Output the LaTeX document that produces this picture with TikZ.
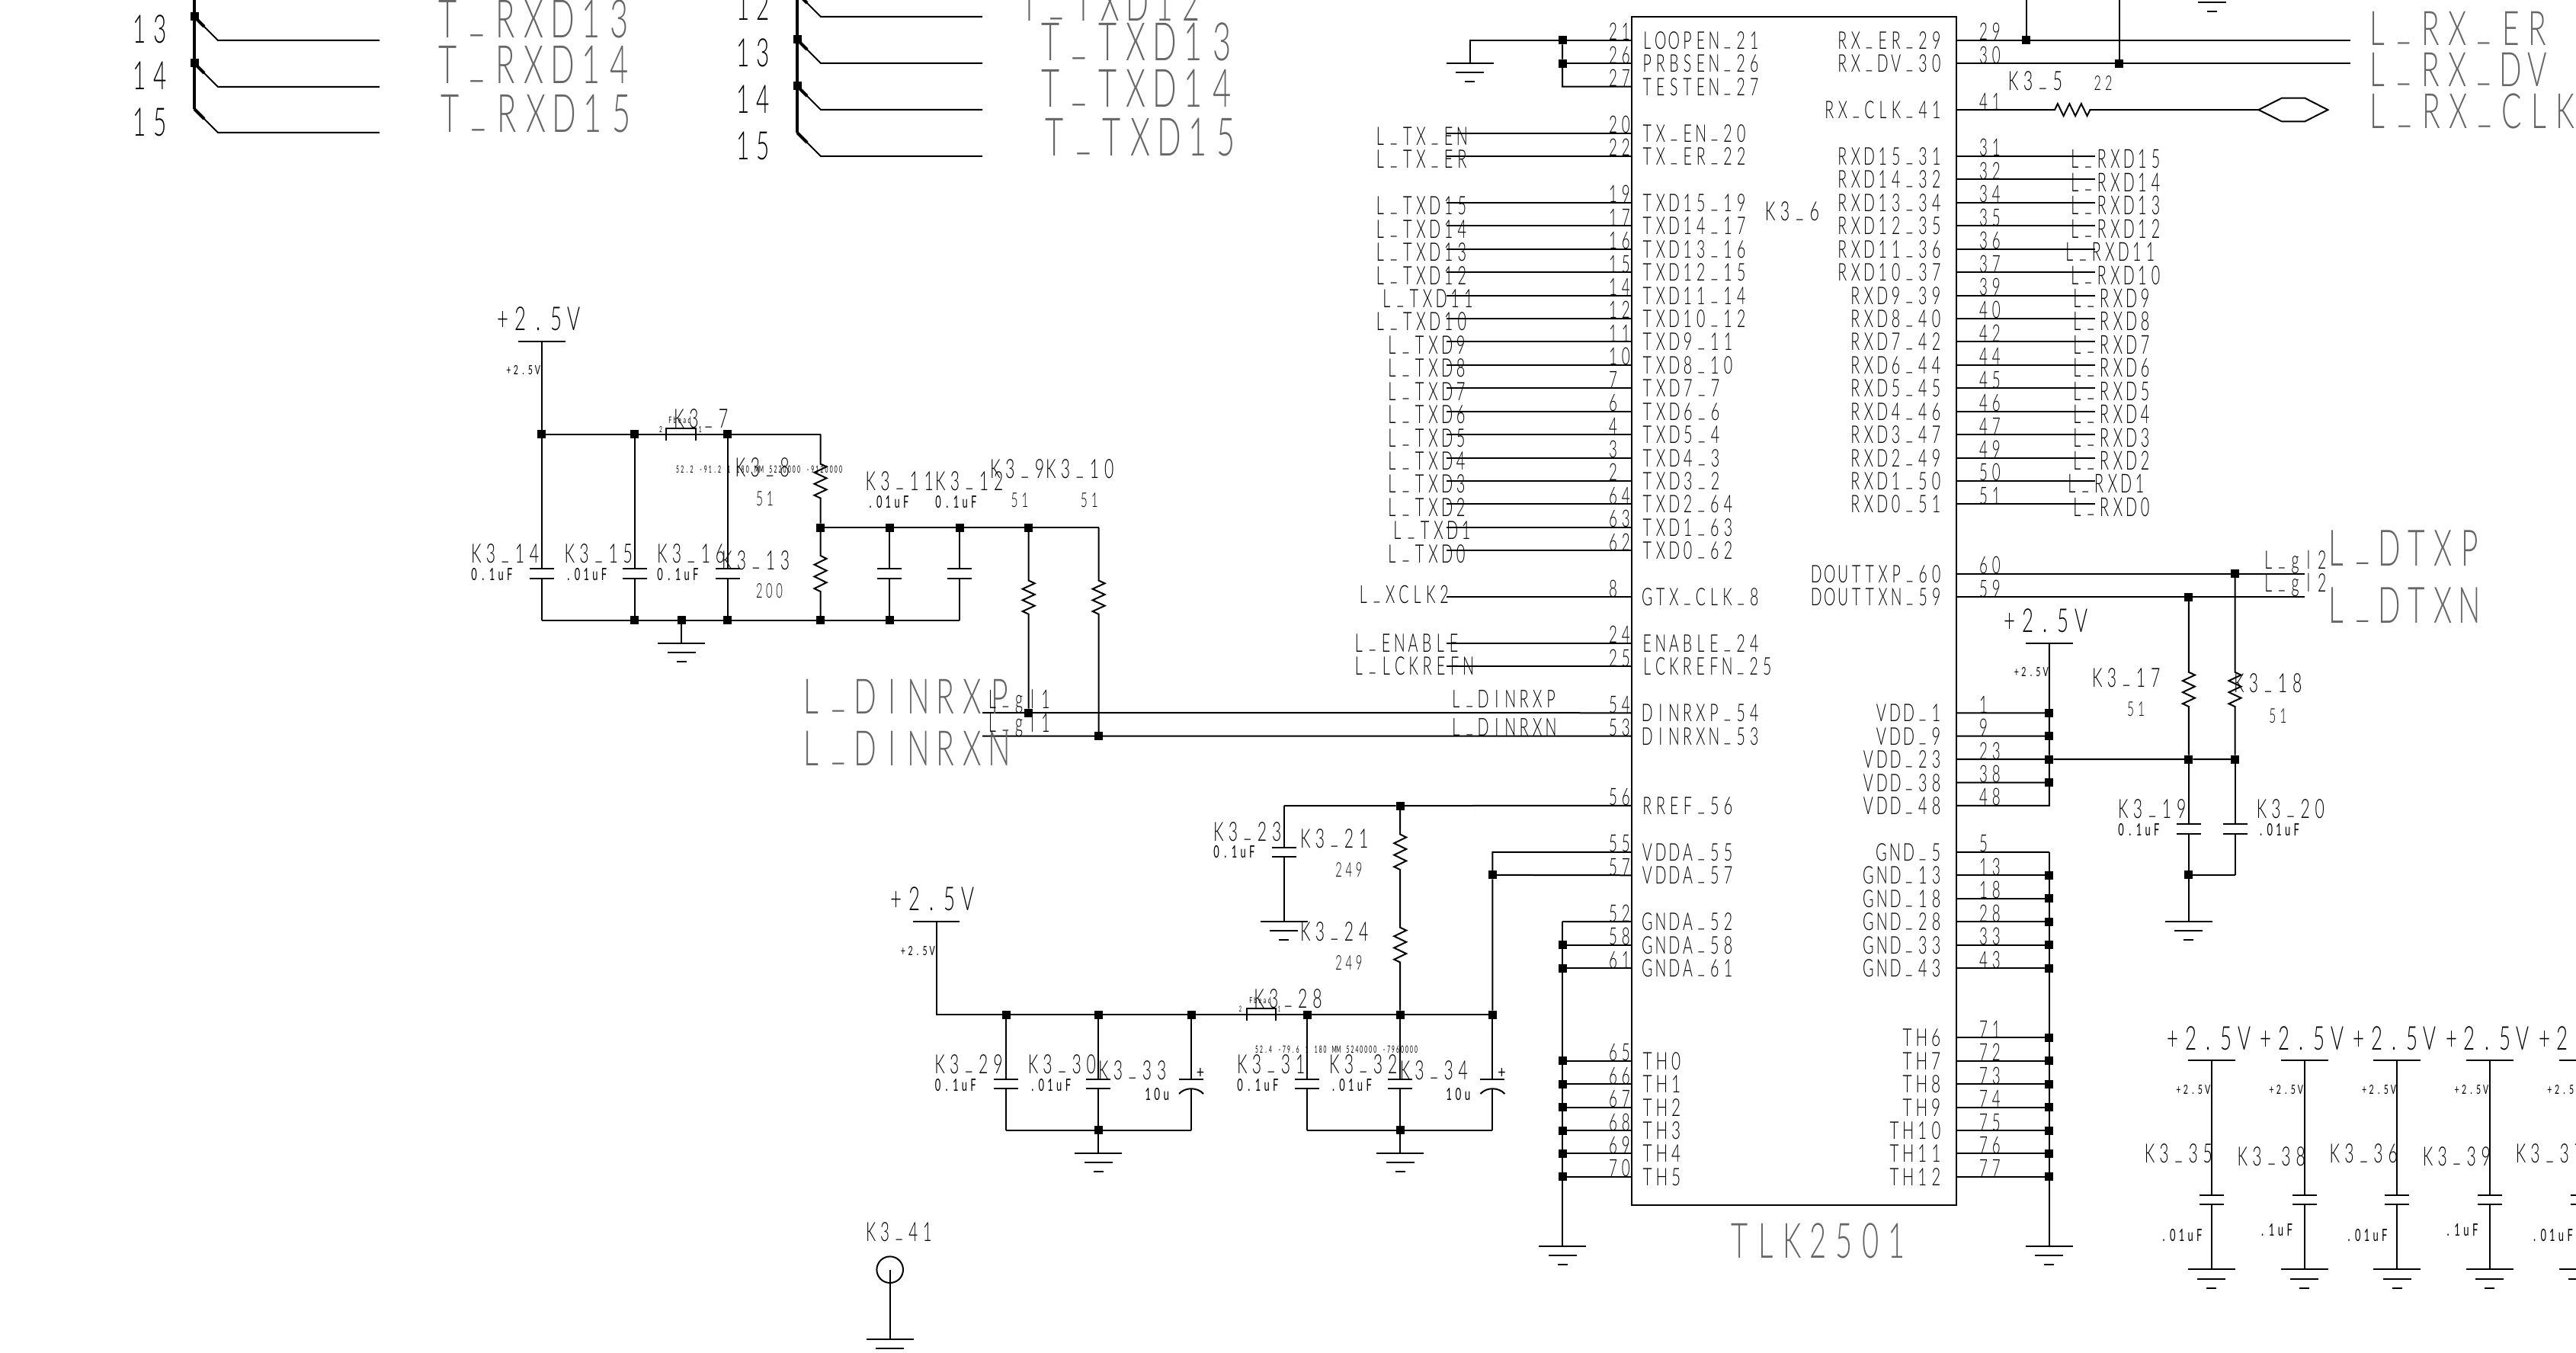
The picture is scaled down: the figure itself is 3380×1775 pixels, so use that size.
\documentclass[tikz,border=0pt]{standalone}
\usepackage{fontspec}
\usepackage{graphicx}
\usepackage{calc}
\newfontfamily\fReg{Lato}
\newfontfamily\fLight{Lato Light}
\newcounter{tn}
\newcount\chn
\makeatletter
\newcommand\cellify[1]{\@tfor\mych:=#1\do{\makebox[9pt][c]{\mych}}}
\newcommand\countchars[1]{\chn=0 \@tfor\mych:=#1\do{\advance\chn by 1 }}
\def\sidewest{west}
% anchor side, x, y of baseline, ink width per character, cap height, text
\newcommand\TX[6]{\countchars{#6}%
  \ifnum\chn>1 \pgfmathsetmacro\ptrue{#4*\the\chn/(\the\chn-0.28)}\else\pgfmathsetmacro\ptrue{#4}\fi
  \edef\sidearg{#1}%
  \ifx\sidearg\sidewest \pgfmathsetmacro\shx{-0.14*\ptrue}\else\pgfmathsetmacro\shx{0.14*\ptrue}\fi
  \TXraw{#1}{#2+\shx}{#3}{\ptrue}{#5}{#6}}
\makeatother
\renewcommand{\_}{\raisebox{1.6pt}{\textunderscore}}
\newcommand\pickfont[1]{\ifdim #1pt<18pt \fReg\else\ifdim #1pt<40pt \fLight\else\fLight\color{black!60}\fi\fi}
\newcommand\TXraw[6]{\stepcounter{tn}%
  \pgfmathsetmacro\sxv{#4*0.5/9}\pgfmathsetmacro\syv{#5*0.5/7.2}%
  \node[lbl,anchor=base #1] (t\thetn) at (#2,#3) {\scalebox{\sxv}[\syv]{\pickfont{#5}\fontsize{10pt}{12pt}\selectfont\cellify{#6}}};}
\newcommand\RF[3]{\TX{west}{#1}{#2}{18}{25}{#3}}
\newcommand\VL[3]{\TX{west}{#1}{#2}{11}{16}{#3}}
\newcommand\NM[3]{\TX{west}{#1}{#2}{12}{19}{#3}}
\newcommand\PV[2]{\TX{west}{#1}{#2}{22}{31}{+2.5V}}
\newcommand\SV[2]{\TX{west}{#1}{#2}{9}{12}{+2.5V}}
% chip pin text
\newcommand\PL[3]{\pgfmathsetmacro\yy{52.8+30.43*#1}%
  \TX{west}{2155}{\yy+11.5}{17}{23}{#2}\TXraw{west}{2108}{\yy}{16.9}{22.5}{#3}}
\newcommand\PR[3]{\pgfmathsetmacro\yy{52.8+30.43*#1}%
  \TX{east}{2547}{\yy+11.5}{17}{23}{#2}\TXraw{west}{2594}{\yy}{16.9}{22.5}{#3}}
\newcommand\NL[3]{\pgfmathsetmacro\yy{52.8+30.43*#1}\TX{west}{#2}{\yy+16}{17.2}{24}{#3}}
\newcommand\NR[3]{\pgfmathsetmacro\yy{52.8+30.43*#1}\TX{west}{#2}{\yy+16}{17}{24.6}{#3}}
% symbols
\newcommand\Jn[3]{\node[jn] (#1) at (#2,#3) {};}
\newcommand\Gnd[3]{\coordinate (#1) at (#2,#3);
  \draw[wire] (#2-31,#3) -- (#2+31,#3);
  \draw[wire] (#2-18.5,#3+12.3) -- (#2+18.5,#3+12.3);
  \draw[wire] (#2-6.5,#3+24.3) -- (#2+6.5,#3+24.3);}
\newcommand\ResW[5]{\pgfmathsetmacro\Ls{(#5-#4)/12}%
  \draw[wire] (#1) -- (#3,#4) -- ++(8,\Ls) -- ++(-16,{2*\Ls}) -- ++(16,{2*\Ls}) -- ++(-16,{2*\Ls}) -- ++(16,{2*\Ls}) -- ++(-16,{2*\Ls}) -- (#3,#5) -- (#2);}
\newcommand\CapW[5]{\draw[wire] (#1) -- (#3,#4);
  \draw[wire] (#3-16,#4) -- (#3+16,#4);
  \draw[wire] (#3-16,#5) -- (#3+16,#5);
  \draw[wire] (#3,#5) -- (#2);}
\newcommand\PolW[5]{\draw[wire] (#1) -- (#3,#4);
  \draw[wire] (#3-16,#4) -- (#3+16,#4);
  \draw[wire] (#3-16,#5+7) .. controls (#3-8,#5-2) and (#3+8,#5-2) .. (#3+16,#5+7);
  \draw[wire] (#3,#5) -- (#2);}
\newcommand\Bead[4]{\draw[wire] (#1,#4) -- (#1,#3) -- (#2,#3) -- (#2,#4);}
\newcommand\Tap[3]{\draw[bus] (#1,#2) -- (#1+13,#2+13);
  \draw[wire] (#1,#2) -- (#1+31,#2+31) -- (#3,#2+31);}
\tikzset{wire/.style={line width=1pt,black},
  bus/.style={line width=2pt,black},
  jn/.style={rectangle,fill=black,minimum size=5.5pt,inner sep=0pt,outer sep=0pt},
  lbl/.style={inner sep=0pt,outer sep=0pt,black},
  chipbox/.style={draw=black,line width=1.2pt,fill=none,rectangle,inner sep=0pt}}
\begin{document}
\begin{tikzpicture}[x=0.5pt,y=-0.5pt]
\useasboundingbox (0,0) rectangle (3380,1775);
\fill[white] (0,0) rectangle (3380,1775);
\clip (0,0) rectangle (3380,1775);
% ---------- top left buses
\draw[bus] (255,0) -- (255,143);
\Jn{ba}{255}{22}\Jn{bb}{255}{83}
\Tap{255}{22}{498}\Tap{255}{83}{498}\Tap{255}{143}{498}
\draw[bus] (1046,0) -- (1046,174);
\Jn{bc}{1046}{52}\Jn{bd}{1046}{113}
\Tap{1046}{-9}{1289}\Tap{1046}{52}{1289}\Tap{1046}{113}{1289}\Tap{1046}{174}{1289}
\TX{west}{173.5}{57}{23}{37}{13}\TX{west}{173.5}{118}{23}{37}{14}\TX{west}{173.5}{179}{23}{37}{15}
\TX{west}{965}{27}{23}{37}{12}\TX{west}{965}{88}{23}{37}{13}\TX{west}{965}{149}{23}{37}{14}\TX{west}{965}{210}{23}{37}{15}
\TX{west}{574.5}{50}{36}{50}{T\_RXD13}\TX{west}{574.5}{110}{36}{50}{T\_RXD14}\TX{west}{577}{174}{36}{50}{T\_RXD15}
\TX{west}{1338}{27.7}{34}{50}{T\_TXD12}\TX{west}{1365}{80}{36}{50}{T\_TXD13}\TX{west}{1365}{140.7}{36}{50}{T\_TXD14}\TX{west}{1370.5}{205}{36}{50}{T\_TXD15}
% ---------- chip
\node[chipbox,minimum width=213pt,minimum height=779.5pt] (chip) at (2354,801.5) {};
\foreach \k in {0,...,49}{\pgfmathsetmacro\yy{52.8+30.43*\k}
  \coordinate (L\k) at (2141,\yy); \coordinate (R\k) at (2567,\yy);}
\PL{0}{LOOPEN\_21}{21}\PL{1}{PRBSEN\_26}{26}\PL{2}{TESTEN\_27}{27}
\PL{4}{TX\_EN\_20}{20}\PL{5}{TX\_ER\_22}{22}
\PL{7}{TXD15\_19}{19}\PL{8}{TXD14\_17}{17}\PL{9}{TXD13\_16}{16}\PL{10}{TXD12\_15}{15}
\PL{11}{TXD11\_14}{14}\PL{12}{TXD10\_12}{12}\PL{13}{TXD9\_11}{11}\PL{14}{TXD8\_10}{10}
\PL{15}{TXD7\_7}{7}\PL{16}{TXD6\_6}{6}\PL{17}{TXD5\_4}{4}\PL{18}{TXD4\_3}{3}
\PL{19}{TXD3\_2}{2}\PL{20}{TXD2\_64}{64}\PL{21}{TXD1\_63}{63}\PL{22}{TXD0\_62}{62}
\PL{24}{GTX\_CLK\_8}{8}\PL{26}{ENABLE\_24}{24}\PL{27}{LCKREFN\_25}{25}
\PL{29}{DINRXP\_54}{54}\PL{30}{DINRXN\_53}{53}\PL{33}{RREF\_56}{56}
\PL{35}{VDDA\_55}{55}\PL{36}{VDDA\_57}{57}
\PL{38}{GNDA\_52}{52}\PL{39}{GNDA\_58}{58}\PL{40}{GNDA\_61}{61}
\PL{44}{TH0}{65}\PL{45}{TH1}{66}\PL{46}{TH2}{67}\PL{47}{TH3}{68}\PL{48}{TH4}{69}\PL{49}{TH5}{70}
\PR{0}{RX\_ER\_29}{29}\PR{1}{RX\_DV\_30}{30}\PR{3}{RX\_CLK\_41}{41}
\PR{5}{RXD15\_31}{31}\PR{6}{RXD14\_32}{32}\PR{7}{RXD13\_34}{34}\PR{8}{RXD12\_35}{35}
\PR{9}{RXD11\_36}{36}\PR{10}{RXD10\_37}{37}\PR{11}{RXD9\_39}{39}\PR{12}{RXD8\_40}{40}
\PR{13}{RXD7\_42}{42}\PR{14}{RXD6\_44}{44}\PR{15}{RXD5\_45}{45}\PR{16}{RXD4\_46}{46}
\PR{17}{RXD3\_47}{47}\PR{18}{RXD2\_49}{49}\PR{19}{RXD1\_50}{50}\PR{20}{RXD0\_51}{51}
\PR{23}{DOUTTXP\_60}{60}\PR{24}{DOUTTXN\_59}{59}
\PR{29}{VDD\_1}{1}\PR{30}{VDD\_9}{9}\PR{31}{VDD\_23}{23}\PR{32}{VDD\_38}{38}\PR{33}{VDD\_48}{48}
\PR{35}{GND\_5}{5}\PR{36}{GND\_13}{13}\PR{37}{GND\_18}{18}\PR{38}{GND\_28}{28}\PR{39}{GND\_33}{33}\PR{40}{GND\_43}{43}
\PR{43}{TH6}{71}\PR{44}{TH7}{72}\PR{45}{TH8}{73}\PR{46}{TH9}{74}\PR{47}{TH10}{75}\PR{48}{TH11}{76}\PR{49}{TH12}{77}
\TX{west}{2270}{1650}{33}{46}{TLK2501}
\RF{2315.7}{289.7}{K3\_6}
% left net labels
\NL{4}{1804.5}{L\_TX\_EN}\NL{5}{1804.5}{L\_TX\_ER}
\NL{7}{1804.5}{L\_TXD15}\NL{8}{1804.5}{L\_TXD14}\NL{9}{1804.5}{L\_TXD13}\NL{10}{1804.5}{L\_TXD12}
\NL{11}{1813}{L\_TXD11}\NL{12}{1804.5}{L\_TXD10}
\NL{13}{1820}{L\_TXD9}\NL{14}{1820}{L\_TXD8}\NL{15}{1820}{L\_TXD7}\NL{16}{1820}{L\_TXD6}\NL{17}{1820}{L\_TXD5}
\NL{18}{1820}{L\_TXD4}\NL{19}{1820}{L\_TXD3}\NL{20}{1820}{L\_TXD2}\NL{21}{1827}{L\_TXD1}\NL{22}{1820}{L\_TXD0}
\TX{west}{1782.5}{791.7}{17}{23.5}{L\_XCLK2}
\TX{west}{1776.5}{855}{17.2}{24}{L\_ENABLE}
\TX{west}{1776.5}{885}{17.4}{24}{L\_LCKREFN}
\TX{west}{1904}{928.3}{17.2}{23.3}{L\_DINRXP}\TX{west}{1904}{965.7}{17.2}{23.3}{L\_DINRXN}
% left pin wires
\foreach \k in {4,5,7,8,...,22,24,26,27}{\draw[wire] (L\k) -- ++(-243,0);}
% top-left tie-offs
\pgfmathsetmacro\ya{52.8}\pgfmathsetmacro\yb{83.23}
\Jn{ga}{2050}{\ya}\Jn{gb}{2050}{\yb}
\Gnd{gtl}{1928.5}{83}
\draw[wire] (L0) -- (ga) -- (1928.5,\ya) -- (gtl);
\draw[wire] (L1) -- (gb);
\draw[wire] (ga) -- (gb) -- (2050,113.66) -- (L2);
% right top
\Jn{ha}{2658.8}{52.8}\Jn{hb}{2780.6}{83.23}
\Gnd{gtr}{2902}{-9}
\draw[wire] (R0) -- ++(516.6,0);
\draw[wire] (R1) -- ++(516.6,0);
\draw[wire] (2658.8,0) -- (ha);
\draw[wire] (2780.6,0) -- (hb);
\coordinate (hx) at (2963.5,144.1);
\pgfmathsetmacro\Lh{46.4/12}
\draw[wire] (R3) -- (2696,144.1) -- ++(\Lh,-8) -- ++({2*\Lh},16) -- ++({2*\Lh},-16) -- ++({2*\Lh},16) -- ++({2*\Lh},-16) -- ++({2*\Lh},16) -- (2742.4,144.1) -- (hx);
\draw[wire] (hx) -- (2994,128.6) -- (3024,128.6) -- (3054.4,144.1) -- (3024,159.4) -- (2994,159.4) -- cycle;
\RF{2634.7}{118.3}{K3\_5}
\TX{west}{2747}{118.3}{12.5}{19}{22}
\TX{west}{3107}{60}{33.6}{45}{L\_RX\_ER}\TX{west}{3107}{114}{33.6}{45}{L\_RX\_DV}\TX{west}{3107}{169}{34}{46}{L\_RX\_CLK}
\foreach \k in {5,...,20}{\draw[wire] (R\k) -- ++(181.6,0);}
\NR{5}{2716}{L\_RXD15}\NR{6}{2716}{L\_RXD14}\NR{7}{2716}{L\_RXD13}\NR{8}{2716}{L\_RXD12}\NR{9}{2709}{L\_RXD11}\NR{10}{2716}{L\_RXD10}
\NR{11}{2719}{L\_RXD9}\NR{12}{2719}{L\_RXD8}\NR{13}{2719}{L\_RXD7}\NR{14}{2719}{L\_RXD6}\NR{15}{2719}{L\_RXD5}\NR{16}{2719}{L\_RXD4}
\NR{17}{2719}{L\_RXD3}\NR{18}{2719}{L\_RXD2}\NR{19}{2712}{L\_RXD1}\NR{20}{2719}{L\_RXD0}
% ---------- left termination block
\coordinate (pa) at (710.8,448);
\draw[wire] (680,448) -- (742,448);
\Jn{aa}{710.8}{569.8}\Jn{ab}{832.5}{569.8}\Jn{ac}{954.8}{569.8}\coordinate (ad) at (1076.5,569.8);
\Jn{ba2}{1076.5}{692.2}\Jn{bb2}{1167}{692.2}\Jn{bc2}{1259}{692.2}\Jn{bd2}{1349.7}{692.2}\coordinate (be2) at (1441.6,692.2);
\coordinate (ca) at (710.8,813.5);\Jn{cb}{832.5}{813.5}\Jn{cc}{894}{813.5}\Jn{cd}{954.8}{813.5}\Jn{ce}{1076.5}{813.5}\Jn{cf}{1167}{813.5}\coordinate (cg) at (1259,813.5);
\Jn{da}{1349.7}{935}\Jn{db}{1441.6}{965.7}
\draw[wire] (pa) -- (aa) -- (ab) -- (ac) -- (ad);
\draw[wire] (ba2) -- (bb2) -- (bc2) -- (bd2) -- (be2);
\draw[wire] (ca) -- (cb) -- (cc) -- (cd) -- (ce) -- (cf) -- (cg);
\CapW{aa}{ca}{710.8}{746.5}{758.8}\CapW{ab}{cb}{832.5}{746.5}{758.8}\CapW{ac}{cd}{954.8}{746.5}{758.8}
\CapW{bb2}{cf}{1167}{746.5}{758.8}\CapW{bc2}{cg}{1259}{746.5}{758.8}
\ResW{ad}{ba2}{1076.5}{608.6}{653.5}\ResW{ba2}{ce}{1076.5}{729}{776}
\ResW{bd2}{da}{1349.7}{761.6}{805.7}\ResW{be2}{db}{1441.6}{761.6}{805.7}
\Gnd{gl}{894}{843.7}\draw[wire] (cc) -- (gl);
\Bead{874.4}{912.9}{562.4}{578}
\draw[wire] (L29) -- (1289,935);
\draw[wire] (L30) -- (1289,965.7);
\PV{651.7}{434}\SV{664}{492}
\RF{884}{561.6}{K3\_7}
\TX{west}{877}{555.5}{6}{8.5}{Fbead}\TXraw{west}{864}{567.8}{6}{8}{2}\TXraw{west}{915.7}{567.8}{6}{8}{1}
\TX{west}{887}{620.8}{6.06}{9.4}{52.2~-91.2~1~180~MM~5220000~-9120000}
\RF{964.5}{625.7}{K3\_8}\NM{991.5}{663}{51}
\RF{947}{747.3}{K3\_13}\NM{991.5}{784}{200}
\RF{618}{739}{K3\_14}\VL{618}{761.6}{0.1uF}
\RF{740.6}{739}{K3\_15}\VL{741.8}{761.6}{.01uF}
\RF{862}{739}{K3\_16}\VL{862}{761.6}{0.1uF}
\RF{1135.6}{643.3}{K3\_11}\VL{1138}{667}{.01uF}
\RF{1227}{643.3}{K3\_12}\VL{1227}{667}{0.1uF}
\RF{1299}{628}{K3\_9}\RF{1372}{628}{K3\_10}
\NM{1326}{665.7}{51}\NM{1417.4}{665.7}{51}
\TX{west}{1052}{936}{34}{46}{L\_DINRXP}\TX{west}{1052}{1004.5}{34}{46}{L\_DINRXN}
\TX{west}{1295.7}{929}{16.5}{24.5}{L\_gl1}\TX{west}{1295.7}{960.4}{16.5}{24.5}{L\_gl1}
% ---------- RREF and analog supply
\Jn{wa}{1837.2}{1057}\coordinate (wb) at (1684.8,1057);\coordinate (wc) at (1837.2,1180);
\Jn{sa}{1320}{1331}\Jn{sb}{1441.2}{1331}\Jn{sc}{1563}{1331}\Jn{sd}{1715.4}{1331}\Jn{se}{1837.2}{1331}\Jn{sf}{1958.4}{1331}
\coordinate (so) at (1228.8,1331);\coordinate (ua) at (1320,1482.9);\Jn{ub}{1441.2}{1482.9}\coordinate (uc) at (1563,1482.9);
\coordinate (ud) at (1715.4,1482.9);\Jn{ue}{1837.2}{1482.9}\coordinate (uf) at (1958.4,1482.9);
\coordinate (pb) at (1228.8,1209);
\draw[wire] (1197.6,1209) -- (1259.4,1209);
\draw[wire] (pb) -- (so) -- (sa) -- (sb) -- (sc) -- (sd) -- (se) -- (sf);
\draw[wire] (ua) -- (ub) -- (uc);
\draw[wire] (ud) -- (ue) -- (uf);
\draw[wire] (L33) -- (wa) -- (wb);
\Gnd{gc}{1684.8}{1209}
\CapW{wb}{gc}{1684.8}{1111.8}{1124}
\ResW{wa}{wc}{1837.2}{1094.6}{1141}\ResW{wc}{se}{1837.2}{1216.8}{1262.5}
\CapW{sa}{ua}{1320}{1416}{1428}\CapW{sb}{ub}{1441.2}{1416}{1428}\PolW{sc}{uc}{1563}{1416}{1428}
\CapW{sd}{ud}{1715.4}{1416}{1428}\CapW{se}{ue}{1837.2}{1416}{1428}\PolW{sf}{uf}{1958.4}{1416}{1428}
\Gnd{gd}{1441.2}{1513}\draw[wire] (ub) -- (gd);
\Gnd{ge}{1837.2}{1513}\draw[wire] (ue) -- (ge);
\Bead{1635.7}{1674}{1323.2}{1338.6}
\Jn{ta}{1958.4}{1147.88}\coordinate (tb) at (1958.4,1117.85);
\draw[wire] (sf) -- (ta) -- (tb) -- (L35);
\draw[wire] (ta) -- (L36);
\PV{1168}{1194.6}\SV{1181.6}{1253}
\RF{1592}{1103}{K3\_23}\VL{1592}{1125.7}{0.1uF}
\RF{1706}{1112.5}{K3\_21}\NM{1751.8}{1150}{249}
\RF{1706}{1234}{K3\_24}\NM{1751.8}{1272}{249}
\RF{1645.3}{1322.5}{K3\_28}
\TX{west}{1639}{1316.8}{5.8}{8}{Fbead}\TXraw{west}{1625}{1327.5}{5}{7.5}{2}\TXraw{west}{1676}{1327.5}{5}{7.5}{1}
\TX{west}{1647}{1381.4}{5.92}{9.4}{52.4~-79.6~1~180~MM~5240000~-7960000}
\RF{1226.3}{1408}{K3\_29}\VL{1226.3}{1431}{0.1uF}
\RF{1348.7}{1408}{K3\_30}\VL{1350.6}{1431}{.01uF}
\RF{1441}{1416}{K3\_33}\TX{west}{1501.8}{1443}{11}{16}{10u}
\RF{1623}{1408}{K3\_31}\VL{1623}{1431}{0.1uF}
\RF{1744}{1408}{K3\_32}\VL{1745.4}{1431}{.01uF}
\RF{1836.6}{1416}{K3\_34}\TX{west}{1897}{1443}{11}{16}{10u}
\TXraw{west}{1567}{1414}{16}{16}{+}\TXraw{west}{1962.5}{1414}{16}{16}{+}
% ---------- K3_41
\node[draw=black,line width=1pt,circle,minimum size=17.3pt,inner sep=0pt] (tp) at (1167.7,1665.7) {};
\Gnd{gk}{1167.7}{1756.7}
\draw[wire] (tp.center) -- (gk);
\TX{west}{1136}{1628}{17.5}{25}{K3\_41}
% ---------- chip ground rails
\Gnd{gla}{2050}{1635}
\draw[wire] (2050,1209.2) -- (gla);
\draw[wire] (L38) -- (2050,1209.2);
\foreach \k in {39,40,44,45,46,47,48,49}{\pgfmathsetmacro\yy{52.8+30.43*\k}
  \node[jn] (LJ\k) at (2050,\yy) {}; \draw[wire] (L\k) -- (LJ\k);}
\Gnd{gra}{2688.8}{1635}
\draw[wire] (2688.8,1117.85) -- (gra);
\draw[wire] (R35) -- (2688.8,1117.85);
\foreach \k in {36,37,38,39,40,43,44,45,46,47,48,49}{\pgfmathsetmacro\yy{52.8+30.43*\k}
  \node[jn] (RJ\k) at (2688.8,\yy) {}; \draw[wire] (R\k) -- (RJ\k);}
% ---------- VDD and differential outputs
\draw[wire] (R23) -- ++(456.75,0);
\draw[wire] (R24) -- ++(456.75,0);
\Jn{ea}{2932.5}{752.7}\Jn{eb}{2871.9}{783.1}
\coordinate (pc) at (2688.75,844.3);
\draw[wire] (2658,844.3) -- (2720,844.3);
\Jn{va}{2688.75}{935.27}\Jn{vb}{2688.75}{965.7}\Jn{vc}{2688.75}{996.13}\Jn{vd}{2688.75}{1026.56}\coordinate (ve) at (2688.75,1056.99);
\draw[wire] (pc) -- (va) -- (vb) -- (vc) -- (vd) -- (ve) -- (R33);
\draw[wire] (R29) -- (va);\draw[wire] (R30) -- (vb);\draw[wire] (R32) -- (vd);
\Jn{fa}{2871.9}{996.13}\Jn{fb}{2932.5}{996.13}
\draw[wire] (R31) -- (vc) -- (fa) -- (fb);
\ResW{eb}{fa}{2871.9}{881.8}{927}\ResW{ea}{fb}{2932.5}{881.8}{927}
\Jn{qa}{2871.9}{1147.9}\coordinate (qb) at (2932.5,1147.9);
\CapW{fa}{qa}{2871.9}{1081}{1093.6}\CapW{fb}{qb}{2932.5}{1081}{1093.6}
\draw[wire] (qb) -- (qa);
\Gnd{gq}{2871.9}{1208.6}\draw[wire] (qa) -- (gq);
\PV{2629}{829.3}\SV{2642.5}{887}
\RF{2745}{901.4}{K3\_17}\NM{2790.6}{939}{51}
\RF{2931}{908.6}{K3\_18}\NM{2976.9}{948}{51}
\RF{2779}{1073}{K3\_19}\VL{2779}{1096}{0.1uF}
\RF{2960.6}{1073}{K3\_20}\VL{2962.5}{1096}{.01uF}
\TX{west}{2970}{746.8}{16.6}{24}{L\_gl2}\TX{west}{2970}{776.4}{16.6}{24}{L\_gl2}
\TX{west}{3053}{742.5}{33.3}{47.5}{L\_DTXP}\TX{west}{3053}{818}{33.3}{47.5}{L\_DTXN}
% ---------- decoupling columns
\foreach \cx/\nm in {2901.6/a, 3023.5/b, 3145.4/c, 3266.8/d, 3388.7/e}{
  \coordinate (dt\nm) at (\cx,1391);
  \draw[wire] (\cx-31,1391) -- (\cx+31,1391);
  \Gnd{db\nm}{\cx}{1665.3}
  \CapW{dt\nm}{db\nm}{\cx}{1567.7}{1580.3}
  \PV{\cx-58.6}{1377.3}
  \SV{\cx-46.6}{1435}
}
\RF{2813.6}{1525.7}{K3\_35}\RF{2935.5}{1529}{K3\_38}\RF{3056.5}{1525.7}{K3\_36}\RF{3178.7}{1529}{K3\_39}\RF{3300.6}{1525.7}{K3\_37}
\VL{2835}{1628}{.01uF}\VL{2964.5}{1621}{.1uF}\VL{3078}{1628}{.01uF}\VL{3208}{1621}{.1uF}\VL{3321.4}{1628}{.01uF}
\end{tikzpicture}
\end{document}
